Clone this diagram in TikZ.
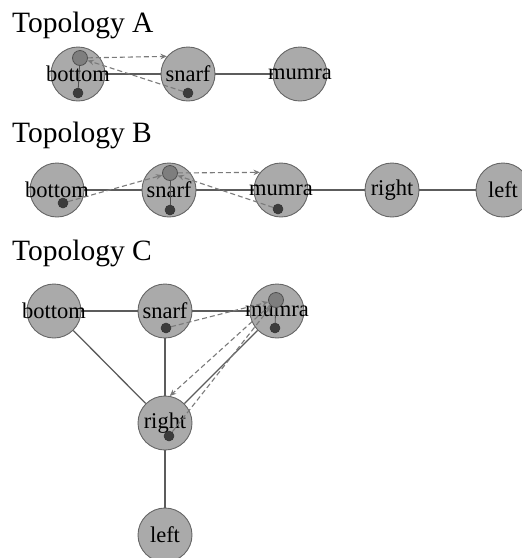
\documentclass[tikz,border=0pt]{standalone}
\usepackage{fontspec}
\setmainfont{Liberation Serif}
\usetikzlibrary{arrows.meta}
\definecolor{nodefill}{HTML}{AAAAAA}
\definecolor{nodeborder}{HTML}{666666}
\definecolor{bigfill}{HTML}{7E7E7E}
\definecolor{bigborder}{HTML}{505050}
\definecolor{dotfill}{HTML}{3C3C3C}
\definecolor{edgecol}{HTML}{5C5C5C}
\definecolor{dashcol}{HTML}{7A7A7A}
\tikzset{
  nd/.style={circle, draw=nodeborder, line width=0.9pt, fill=nodefill, minimum size=54pt, inner sep=0pt, font=\fontsize{22.5}{22.5}\selectfont},
  bigc/.style={circle, draw=bigborder, line width=0.8pt, fill=bigfill, minimum size=15pt, inner sep=0pt},
  dotc/.style={circle, draw=black!80, line width=0.5pt, fill=dotfill, minimum size=10pt, inner sep=0pt},
  edg/.style={draw=edgecol, line width=1.3pt},
  msg/.style={draw=dashcol, line width=1.1pt, dash pattern=on 5pt off 3pt, -{Stealth[length=6.5pt,width=5.5pt]}},
  own/.style={draw=bigborder, line width=0.8pt},
  ttl/.style={anchor=base west, font=\fontsize{29.5}{29.5}\selectfont, inner sep=0pt}
}
\begin{document}
\begin{tikzpicture}[x=1pt,y=-1pt]
\useasboundingbox (0,0) rectangle (522,558);
% titles
\node[ttl] (tA) at (12,32) {Topology A};
\node[ttl] (tB) at (12,142) {Topology B};
\node[ttl] (tC) at (12,260) {Topology C};
% ---------- Topology A
\node[nd] (aB) at (78,74) {};
\node[nd] (aS) at (188,74) {};
\node[nd] (aM) at (300,74) {};
\draw[edg] (aB) -- (aS);
\draw[edg] (aS) -- (aM);
\node[nd, fill=none, draw=none] at (aB) {bottom};
\node[nd, fill=none, draw=none] at (aS) {snarf};
\node[nd, fill=none, draw=none] at (aM) {mumra};
\node[bigc] (aBig) at (80,58) {};
\node[dotc] (aBd) at (78,93) {};
\node[dotc] (aSd) at (188,93) {};
\draw[own] (aBig) -- (aBd);
\draw[msg] (aBig) -- (aS.140);
\draw[msg] (aSd) -- (aBig);
% ---------- Topology B
\node[nd] (bB) at (57,190) {};
\node[nd] (bS) at (169,190) {};
\node[nd] (bM) at (281,190) {};
\node[nd] (bR) at (392,190) {};
\node[nd] (bL) at (503,190) {};
\draw[edg] (bB) -- (bS);
\draw[edg] (bS) -- (bM);
\draw[edg] (bM) -- (bR);
\draw[edg] (bR) -- (bL);
\node[nd, fill=none, draw=none] at (bB) {bottom};
\node[nd, fill=none, draw=none] at (bS) {snarf};
\node[nd, fill=none, draw=none] at (bM) {mumra};
\node[nd, fill=none, draw=none] at (bR) {right};
\node[nd, fill=none, draw=none] at (bL) {left};
\node[bigc] (bBig) at (170,173) {};
\node[dotc] (bBd) at (63,203) {};
\node[dotc] (bSd) at (170,210) {};
\node[dotc] (bMd) at (278,209) {};
\draw[own] (bBig) -- (bSd);
\draw[msg] (bBig) -- (bM.140);
\draw[msg] (bMd) -- (bBig);
\draw[msg] (bBd) -- (bBig);
% ---------- Topology C
\node[nd] (cB) at (54,311) {};
\node[nd] (cS) at (165,311) {};
\node[nd] (cM) at (277,311) {};
\node[nd] (cR) at (165,423) {};
\node[nd] (cL) at (165,535) {};
\draw[edg] (cB) -- (cS);
\draw[edg] (cS) -- (cM);
\draw[edg] (cB) -- (cR);
\draw[edg] (cS) -- (cR);
\draw[edg] (cM) -- (cR);
\draw[edg] (cR) -- (cL);
\node[nd, fill=none, draw=none] at (cB) {bottom};
\node[nd, fill=none, draw=none] at (cS) {snarf};
\node[nd, fill=none, draw=none] at (cM) {mumra};
\node[nd, fill=none, draw=none] at (cR) {right};
\node[nd, fill=none, draw=none] at (cL) {left};
\node[bigc] (cBig) at (276,300) {};
\node[dotc] (cSd) at (166,328) {};
\node[dotc] (cMd) at (275,328) {};
\node[dotc] (cRd) at (169,436) {};
\draw[own] (cBig) -- (cMd);
\draw[msg] (cSd) -- (cBig);
\draw[msg] (cBig) -- (cR.80);
\draw[msg] (cRd) -- (cBig);
\end{tikzpicture}
\end{document}
